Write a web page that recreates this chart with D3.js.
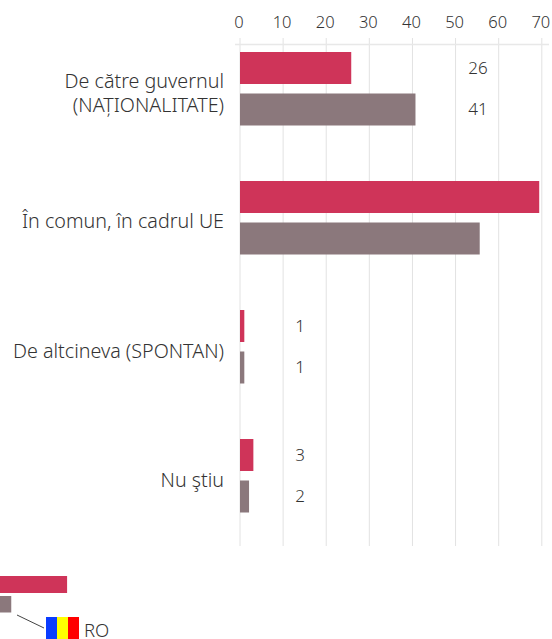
<!DOCTYPE html>
<html><head><meta charset="utf-8">
<script src="https://cdn.jsdelivr.net/npm/d3@7"></script>
<style>html,body{margin:0;padding:0;background:#fff}svg{display:block}
text{font-family:"Noto Sans",sans-serif;font-weight:300;fill:#333}</style></head>
<body><div id="chart"></div>
<script>
const categories = [["De către guvernul","(NAȚIONALITATE)"],["În comun, în cadrul UE"],["De altcineva (SPONTAN)"],["Nu ştiu"]];
const redValues = [25.8,69.4,1,3.1];
const greyValues = [40.7,55.6,1,2.1];
const redLabels = ["26",null,"1","3"];
const greyLabels = ["41",null,"1","2"];
const ticks = [0,10,20,30,40,50,60,70];
const flagColors = ["#0a3cff","#ffff00","#ff0000"];
const legendRed = 15.5, legendGrey = 2.6;

const colors = {a:"#cf3459", b:"#8b787c"};
const W=552,H=639;
const svg=d3.select("#chart").append("svg").attr("width",W).attr("height",H);
const x=d3.scaleLinear().domain([0,70]).range([240,541.8]);
const band=d3.scaleBand().domain(d3.range(categories.length)).range([45,561]);
const yOf=i=>band(i)+7;

svg.append("g").selectAll("line").data(ticks).join("line")
 .attr("x1",d=>x(d)).attr("x2",d=>x(d)).attr("y1",38).attr("y2",546)
 .attr("stroke","#e2e2e2").attr("stroke-width",1);
svg.append("line").attr("x1",235).attr("x2",549).attr("y1",44.5).attr("y2",44.5).attr("stroke","#e8e8e8").attr("stroke-width",1.5);
svg.append("g").selectAll("text").data(ticks).join("text")
 .attr("x",d=>x(d)-1).attr("y",28).attr("text-anchor","middle").attr("font-size",16.5).text(d=>d);
const barH=32;
const rows=svg.append("g").selectAll("g").data(categories).join("g");
rows.append("rect").attr("x",x(0)).attr("y",(d,i)=>yOf(i)).attr("height",barH)
 .attr("width",(d,i)=>x(redValues[i])-x(0)).attr("fill",colors.a);
rows.append("rect").attr("x",x(0)).attr("y",(d,i)=>yOf(i)+41.5).attr("height",barH)
 .attr("width",(d,i)=>x(greyValues[i])-x(0)).attr("fill",colors.b);
rows.append("text").attr("x",(d,i)=>redValues[i]>10?478:300).attr("y",(d,i)=>yOf(i)+22).attr("text-anchor","middle")
 .attr("font-size",17).text((d,i)=>redLabels[i]);
rows.append("text").attr("x",(d,i)=>redValues[i]>10?478:300).attr("y",(d,i)=>yOf(i)+63).attr("text-anchor","middle")
 .attr("font-size",17).text((d,i)=>greyLabels[i]);
rows.each(function(d,i){
  const g=d3.select(this);
  const cy=yOf(i)+37.5;
  d.forEach((t,k)=>{
    g.append("text").attr("x",224).attr("text-anchor","end").attr("font-size",19.7)
     .attr("y",cy+(i===1?9:10.5)+(k-(d.length-1)/2)*24.5).text(t);
  });
});
const lx=d3.scaleLinear().domain([0,70]).range([0,303]);
svg.append("rect").attr("x",0).attr("y",576).attr("height",17).attr("width",lx(legendRed)).attr("fill",colors.a);
svg.append("rect").attr("x",0).attr("y",596).attr("height",16.5).attr("width",lx(legendGrey)).attr("fill",colors.b);
svg.append("line").attr("x1",17).attr("y1",615).attr("x2",44).attr("y2",628).attr("stroke","#444").attr("stroke-width",1);
svg.append("g").selectAll("rect").data(flagColors).join("rect")
 .attr("x",(d,i)=>46+i*11).attr("y",617).attr("width",11).attr("height",22).attr("fill",d=>d);
svg.append("text").attr("x",84).attr("y",636.5).attr("font-size",18.5).text("RO");
</script></body></html>
